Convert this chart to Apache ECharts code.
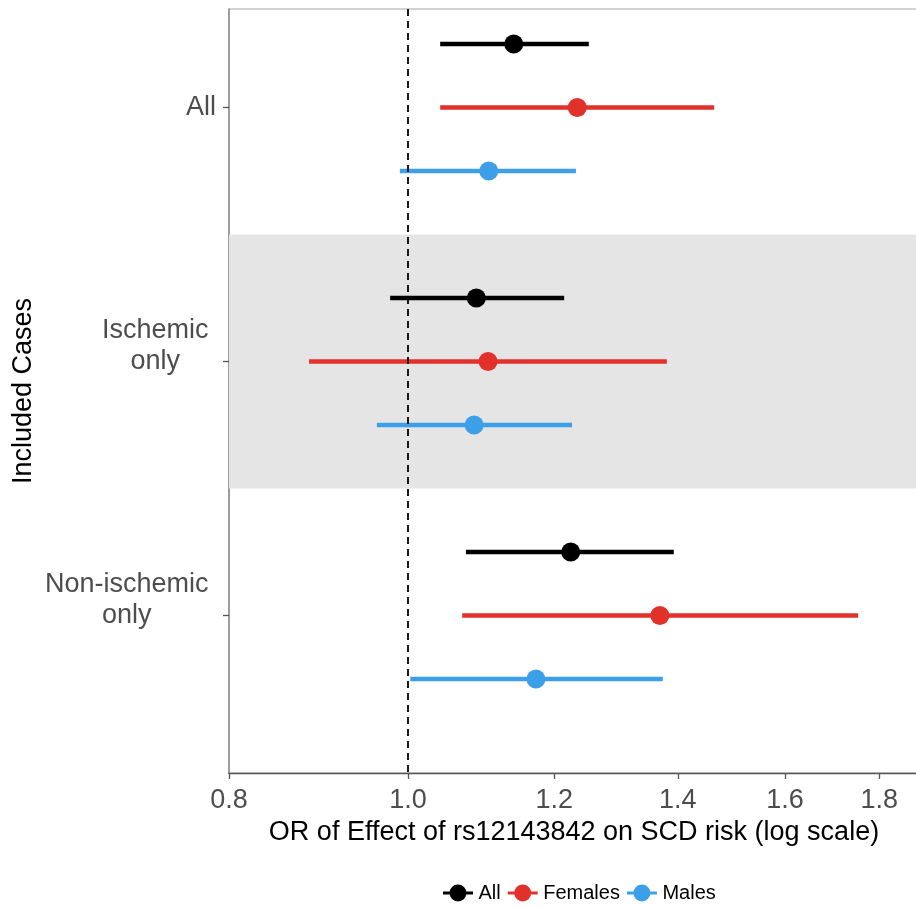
<!DOCTYPE html>
<html>
<head>
<meta charset="utf-8">
<title>OR of Effect of rs12143842 on SCD risk</title>
<script src="https://cdn.jsdelivr.net/npm/echarts@6/dist/echarts.min.js"></script>
<style>
  html, body { margin: 0; padding: 0; background: #fff; }
  #chart { width: 916px; height: 907px; }
</style>
</head>
<body>
<div id="chart"></div>
<script>
// Case subsets (top to bottom) and subgroup names
const categories = ['All', 'Ischemic\nonly', 'Non-ischemic\nonly'];
const groups = ['All', 'Females', 'Males'];

// Odds ratios with 95% confidence limits, per case subset
const orAll      = [1.141, 1.089, 1.225];
const loAll      = [1.041, 0.978, 1.075];
const hiAll      = [1.253, 1.215, 1.393];

const orFemales  = [1.235, 1.105, 1.369];
const loFemales  = [1.041, 0.884, 1.070];
const hiFemales  = [1.465, 1.381, 1.753];

const orMales    = [1.106, 1.086, 1.173];
const loMales    = [0.990, 0.962, 1.003];
const hiMales    = [1.233, 1.227, 1.374];

// Tick labels of the OR axis (log scale)
const xTicks = [0.8, 1.0, 1.2, 1.4, 1.6, 1.8];

const FONT = '"Liberation Sans", Arial, Helvetica, sans-serif';
const colors = { All: '#000000', Females: '#e2302b', Males: '#3d9fe8' };
const dodge = { All: -0.25, Females: 0, Males: 0.25 };
const seriesValues = {
  All: [loAll, hiAll, orAll],
  Females: [loFemales, hiFemales, orFemales],
  Males: [loMales, hiMales, orMales]
};

// The OR axis is drawn on natural-log values so ticks keep log spacing
const xMin = Math.log(0.8);
const xMax = xMin + 690 / 802;

function buildData(name) {
  const [lo, hi, or] = seriesValues[name];
  return categories.map((c, i) => [
    Math.log(lo[i]), Math.log(hi[i]), Math.log(or[i]), i + dodge[name]
  ]);
}

function makeSeries(name) {
  const color = colors[name];
  return {
    name: name,
    type: 'custom',
    color: color,
    itemStyle: { color: color },
    z: 3,
    encode: { x: [0, 1, 2], y: 3 },
    data: buildData(name),
    renderItem: function (params, api) {
      const y = api.value(3);
      const lo = api.coord([api.value(0), y]);
      const hi = api.coord([api.value(1), y]);
      const pt = api.coord([api.value(2), y]);
      return {
        type: 'group',
        children: [
          { type: 'line', shape: { x1: lo[0], y1: lo[1], x2: hi[0], y2: hi[1] },
            style: { stroke: color, lineWidth: 4.5 } },
          { type: 'circle', shape: { cx: pt[0], cy: pt[1], r: 9.5 },
            style: { fill: color } }
        ]
      };
    }
  };
}

const legendIcon = 'path://M0,6.5H30V9.5H0Z M6.5,8A8.5,8.5 0 1 1 23.5,8A8.5,8.5 0 1 1 6.5,8Z';

const chart = echarts.init(document.getElementById('chart'), null, { renderer: 'canvas' });

chart.setOption({
  animation: false,
  backgroundColor: '#ffffff',
  textStyle: { fontFamily: FONT },
  grid: {
    left: 229, top: 9, right: -3, bottom: 134,
    show: true, borderColor: '#a6a6a6', borderWidth: 1,
    outerBoundsMode: 'none'
  },
  legend: {
    data: groups,
    left: 443, top: 883,
    padding: 0,
    itemWidth: 31, itemHeight: 17, itemGap: 7,
    icon: legendIcon,
    textStyle: { fontFamily: FONT, fontSize: 20, color: '#000' }
  },
  xAxis: {
    type: 'value',
    min: xMin, max: xMax,
    name: 'OR of Effect of rs12143842 on SCD risk (log scale)',
    nameLocation: 'middle',
    nameGap: 44,
    nameTextStyle: { fontFamily: FONT, fontSize: 27, color: '#000' },
    axisLine: { show: true, onZero: false, lineStyle: { color: '#555', width: 1.3 } },
    axisTick: { show: true, length: 6, customValues: xTicks.map(Math.log),
                lineStyle: { color: '#555', width: 1.3 } },
    axisLabel: {
      customValues: xTicks.map(Math.log),
      formatter: v => Math.exp(v).toFixed(1),
      fontFamily: FONT, fontSize: 27, color: '#4d4d4d', margin: 14
    },
    splitLine: { show: false }
  },
  yAxis: {
    type: 'value',
    inverse: true,
    min: -0.388, max: 2.62,
    name: 'Included Cases',
    nameLocation: 'middle',
    nameGap: 192,
    nameMoveOverlap: false,
    nameRotate: 90,
    nameTextStyle: { fontFamily: FONT, fontSize: 27, color: '#000' },
    axisLine: { show: true, onZero: false, lineStyle: { color: '#8a8a8a', width: 1.5 } },
    axisTick: { show: true, length: 6, customValues: [0, 1, 2],
                lineStyle: { color: '#555', width: 1.3 } },
    axisLabel: {
      customValues: [0, 1, 2],
      margin: 13,
      fontFamily: FONT, fontSize: 27, color: '#4d4d4d',
      formatter: function (v) {
        const lines = categories[Math.round(v)].split('\n');
        if (lines.length === 1) return '{s|' + lines[0] + '}';
        // centred lines, with a blank trailing line so the last line sits on the tick
        return lines.map(l => '{t|' + l + ' }').join('\n') + '\n{t| }';
      },
      rich: {
        s: { fontFamily: FONT, fontSize: 27, color: '#4d4d4d', lineHeight: 31 },
        t: { fontFamily: FONT, fontSize: 27, color: '#4d4d4d', align: 'center', lineHeight: 31 }
      }
    },
    splitLine: { show: false }
  },
  series: [
    {
      // shaded band behind the middle case subset
      type: 'custom',
      name: '_band',
      z: 1,
      data: [],
      renderItem: function () { return null; },
      markArea: {
        silent: true,
        itemStyle: { color: '#e5e5e5' },
        data: [[{ yAxis: 0.5 }, { yAxis: 1.5 }]]
      }
    },
    makeSeries('All'),
    makeSeries('Females'),
    makeSeries('Males'),
    {
      // OR = 1 reference line
      type: 'custom',
      name: '_ref',
      z: 5,
      data: [],
      renderItem: function () { return null; },
      markLine: {
        silent: true,
        symbol: ['none', 'none'],
        label: { show: false },
        lineStyle: { color: '#000', type: [7, 5], width: 1.8 },
        data: [{ xAxis: 0 }]
      }
    }
  ]
});
</script>
</body>
</html>
